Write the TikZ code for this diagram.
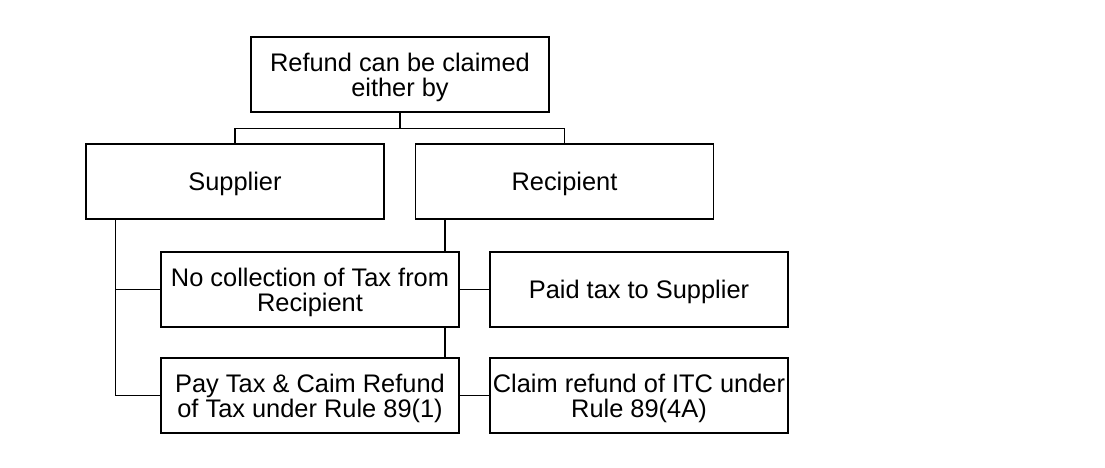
\documentclass[tikz,border=0pt]{standalone}
\usepackage{fontspec}
\setmainfont{Liberation Sans}

\begin{document}
\begin{tikzpicture}[x=1pt, y=1pt, line width=1.2pt,
  box/.style={rectangle, draw, fill=white, minimum width=298pt, minimum height=75pt,
    inner sep=1pt, text depth=0pt, align=center, font=\fontsize{25.4}{25}\selectfont}]

\useasboundingbox (0,0) rectangle (1105,468);

\node[box] (T) at (400,393.5) {Refund can be claimed\\either by};
\node[box] (S) at (235,286.5) {Supplier};
\node[box] (R) at (564.5,286.5) {Recipient};
\node[box] (N) at (310,178.5) {No collection of Tax from\\Recipient};
\node[box] (P) at (639,178.5) {Paid tax to Supplier};
\node[box] (Y) at (310,72.5) {Pay Tax \& Caim Refund\\of Tax under Rule 89(1)};
\node[box] (C) at (639,72.5) {Claim refund of ITC under\\Rule 89(4A)};

\coordinate (Sd) at ([xshift=30pt]S.south west);
\coordinate (Rd) at ([xshift=30pt]R.south west);

\draw (T.south) -- ++(0,-16) -| (S.north);
\draw (T.south) -- ++(0,-16) -| (R.north);
\draw (Sd) |- (N.west);
\draw (Sd) |- (Y.west);
\draw (Rd) -- (Rd |- N.north);
\draw (Rd |- N.south) -- (Rd |- Y.north);
\draw (N.east) -- (P.west);
\draw (Y.east) -- (C.west);

\end{tikzpicture}
\end{document}
